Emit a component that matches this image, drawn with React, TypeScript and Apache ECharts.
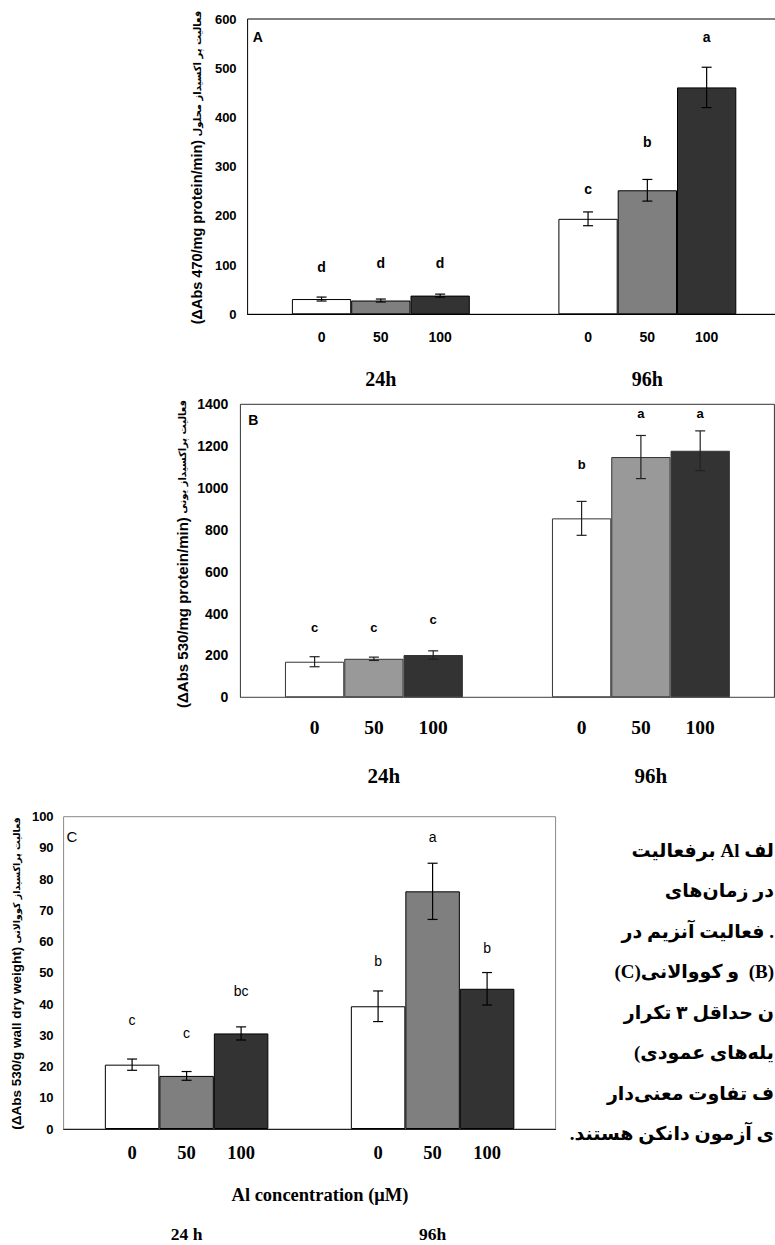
import React, { useEffect, useRef } from 'react';
import * as echarts from 'echarts';

// ---------- data ----------
const groups = ['24h', '96h'];
const groupsC = ['24 h', '96h'];
const concLabels = ['0', '50', '100'];

// Panel A (soluble peroxidase)
const aMean0 = [31, 194];
const aMean50 = [28, 252];
const aMean100 = [38, 461];
const aErr0 = [4, 14];
const aErr50 = [3, 22];
const aErr100 = [3, 41];
const aLetter0 = ['d', 'c'];
const aLetter50 = ['d', 'b'];
const aLetter100 = ['d', 'a'];
const aLetterAt0 = [96, 254];
const aLetterAt50 = [105, 350];
const aLetterAt100 = [105, 563];

// Panel B (ionic peroxidase)
const bMean0 = [170, 855];
const bMean50 = [184, 1148];
const bMean100 = [202, 1178];
const bErr0 = [24, 81];
const bErr50 = [8, 103];
const bErr100 = [20, 95];
const bLetter0 = ['c', 'b'];
const bLetter50 = ['c', 'a'];
const bLetter100 = ['c', 'a'];
const bLetterAt0 = [334, 1110];
const bLetterAt50 = [334, 1354];
const bLetterAt100 = [374, 1354];

// Panel C (covalent peroxidase)
const cMean0 = [20.6, 39.3];
const cMean50 = [17.0, 76.1];
const cMean100 = [30.6, 44.9];
const cErr0 = [1.8, 4.9];
const cErr50 = [1.4, 9.0];
const cErr100 = [2.1, 5.2];
const cLetter0 = ['c', 'b'];
const cLetter50 = ['c', 'a'];
const cLetter100 = ['bc', 'b'];
const cLetterAt0 = [34.9, 53.7];
const cLetterAt50 = [30.8, 93.4];
const cLetterAt100 = [44.2, 58.1];

const yMaxA = 600, yStepA = 100;
const yMaxB = 1400, yStepB = 200;
const yMaxC = 100, yStepC = 10;

const titleAen = '(ΔAbs 470/mg protein/min)';
const titleAfa = 'فعالیت پر اکسیداز محلول';
const titleBen = '(ΔAbs 530/mg protein/min)';
const titleBfa = 'فعالیت پراکسیداز یونی';
const titleCen = '(ΔAbs 530/g wall dry weight)';
const titleCfa = 'فعالیت پراکسیداز کووالانی';
const xNameC = 'Al concentration (μM)';

const captionLines = [
  'لف Al برفعالیت',
  'در زمان\u200cهای',
  '. فعالیت آنزیم در',
  '(B)  و کووالانی(C)',
  'ن حداقل ۳ تکرار',
  'یله\u200cهای عمودی)',
  'ف تفاوت معنی\u200cدار',
  'ی آزمون دانکن هستند.',
];

// ---------- styles ----------
const SANS = '"Liberation Sans", Arial, sans-serif';
const SERIF = '"Liberation Serif", "Times New Roman", serif';
const FA = '"DejaVu Sans", sans-serif';
const MIXED = '"Liberation Serif", "DejaVu Sans", serif';

const panels = [
  {
    means: [aMean0, aMean50, aMean100], errs: [aErr0, aErr50, aErr100],
    letters: [aLetter0, aLetter50, aLetter100], letterAt: [aLetterAt0, aLetterAt50, aLetterAt100],
    cats: groups, yMax: yMaxA, yStep: yStepA,
    grid: { left: 247.6, top: 19, width: 533, height: 295.3 }, barWidth: 59.3,
    colors: ['#ffffff', '#7f7f7f', '#333333'], barBorder: '#000', frame: '#000', axisColor: '#000', errColor: '#000',
    yFont: 13, yMargin: 11,
    subFamily: SANS, subSize: 14, subDistance: 16,
    groupSize: 20, groupMargin: 55, groupPadding: [0, 0, 0, 0],
    letterFont: { family: SANS, weight: 'bold', size: 14 },
  },
  {
    means: [bMean0, bMean50, bMean100], errs: [bErr0, bErr50, bErr100],
    letters: [bLetter0, bLetter50, bLetter100], letterAt: [bLetterAt0, bLetterAt50, bLetterAt100],
    cats: groups, yMax: yMaxB, yStep: yStepB,
    grid: { left: 240.4, top: 404.3, width: 534, height: 293 }, barWidth: 59.3,
    colors: ['#ffffff', '#999999', '#333333'], barBorder: '#333', frame: '#333', axisColor: '#666', errColor: '#222',
    yFont: 14, yMargin: 12,
    subFamily: SERIF, subSize: 19.5, subDistance: 20,
    groupSize: 21, groupMargin: 68, groupPadding: [0, 0, 0, 20],
    letterFont: { family: SANS, weight: 'bold', size: 13 },
  },
  {
    means: [cMean0, cMean50, cMean100], errs: [cErr0, cErr50, cErr100],
    letters: [cLetter0, cLetter50, cLetter100], letterAt: [cLetterAt0, cLetterAt50, cLetterAt100],
    cats: groupsC, yMax: yMaxC, yStep: yStepC,
    grid: { left: 63.6, top: 816.7, width: 492, height: 312.3 }, barWidth: 54.5,
    colors: ['#ffffff', '#7f7f7f', '#333333'], barBorder: '#000', frame: '#888', axisColor: '#222', errColor: '#000',
    yFont: 13, yMargin: 10,
    subFamily: SERIF, subSize: 18.5, subDistance: 14.5,
    groupSize: 17.5, groupMargin: 96, groupPadding: [0, 0, 0, 0],
    letterFont: { family: SANS, weight: 'normal', size: 14 },
  },
];

function yTitle(x: number, y: number, en: string, fa: string, enSize: number, faSize: number) {
  return {
    type: 'text', x, y, rotation: Math.PI / 2,
    style: {
      text: `{e|${en}}{f| ${fa}}`,
      align: 'center', verticalAlign: 'middle',
      rich: {
        e: { fontFamily: SANS, fontWeight: 'bold', fontSize: enSize, fill: '#000', color: '#000' },
        f: { fontFamily: FA, fontWeight: 'bold', fontSize: faSize, fill: '#000', color: '#000' },
      },
    },
  };
}

function buildOption() {
  const grid: any[] = [];
  const xAxis: any[] = [];
  const yAxis: any[] = [];
  const series: any[] = [];

  panels.forEach((p: any, pi) => {
    grid.push({
      ...p.grid, show: true, borderColor: p.frame, borderWidth: 1, backgroundColor: 'transparent',
      containLabel: false, outerBoundsMode: 'none',
    });
    xAxis.push({
      type: 'category', gridIndex: pi, data: p.cats,
      axisTick: { show: false },
      axisLine: { show: true, lineStyle: { color: p.axisColor, width: 1 } },
      axisLabel: { margin: p.groupMargin, fontFamily: SERIF, fontWeight: 'bold', fontSize: p.groupSize, color: '#000', padding: p.groupPadding },
      splitLine: { show: false },
    });
    yAxis.push({
      type: 'value', gridIndex: pi, min: 0, max: p.yMax, interval: p.yStep,
      axisLine: { show: false }, axisTick: { show: false }, splitLine: { show: false },
      axisLabel: {
        margin: p.yMargin, fontFamily: SANS, fontWeight: 'bold', fontSize: p.yFont, color: '#000',
        formatter: (v: number) => String(v),
      },
    });
    concLabels.forEach((c, k) => {
      series.push({
        type: 'bar', name: c, xAxisIndex: pi, yAxisIndex: pi, data: p.means[k],
        barWidth: p.barWidth, barGap: '0%', silent: true,
        itemStyle: { color: p.colors[k], borderColor: p.barBorder, borderWidth: 1 },
        label: {
          show: true, position: 'bottom', distance: p.subDistance, formatter: c,
          fontFamily: p.subFamily, fontWeight: 'bold', fontSize: p.subSize, color: '#000',
        },
      });
    });
    const errData: number[][] = [];
    const letters: string[] = [];
    p.cats.forEach((_: string, i: number) => {
      concLabels.forEach((_c, k) => {
        errData.push([i, p.means[k][i], p.errs[k][i], p.letterAt[k][i], k]);
        letters.push(p.letters[k][i]);
      });
    });
    const bw = p.barWidth;
    series.push({
      type: 'custom', xAxisIndex: pi, yAxisIndex: pi, data: errData, z: 5, clip: false, silent: true,
      renderItem: (params: any, api: any) => {
        const i = api.value(0), m = api.value(1), s = api.value(2), ly = api.value(3), k = api.value(4);
        const off = (k - 1) * bw;
        const top = api.coord([i, m + s]);
        const bot = api.coord([i, m - s]);
        const lp = api.coord([i, ly]);
        const x = top[0] + off;
        const st = { stroke: p.errColor, lineWidth: 1.2 };
        return {
          type: 'group',
          children: [
            { type: 'line', shape: { x1: x, y1: top[1], x2: x, y2: bot[1] }, style: st },
            { type: 'line', shape: { x1: x - 5, y1: top[1], x2: x + 5, y2: top[1] }, style: st },
            { type: 'line', shape: { x1: x - 5, y1: bot[1], x2: x + 5, y2: bot[1] }, style: st },
            {
              type: 'text', x: lp[0] + off, y: lp[1],
              style: {
                text: letters[params.dataIndex], fill: '#000',
                fontFamily: p.letterFont.family, fontWeight: p.letterFont.weight, fontSize: p.letterFont.size,
                align: 'center', verticalAlign: 'middle', textAlign: 'center', textVerticalAlign: 'middle',
              },
            },
          ],
        };
      },
    });
  });

  const graphic: any[] = [
    { type: 'text', x: 257.8, y: 36.7, style: { text: 'A', fontFamily: SANS, fontWeight: 'bold', fontSize: 14, fill: '#000', align: 'center', verticalAlign: 'middle' } },
    { type: 'text', x: 253.3, y: 420, style: { text: 'B', fontFamily: SANS, fontWeight: 'bold', fontSize: 14, fill: '#000', align: 'center', verticalAlign: 'middle' } },
    { type: 'text', x: 71.8, y: 836.7, style: { text: 'C', fontFamily: SANS, fontWeight: 'normal', fontSize: 15, fill: '#000', align: 'center', verticalAlign: 'middle' } },
    { type: 'text', x: 320, y: 1195, style: { text: xNameC, fontFamily: SERIF, fontWeight: 'bold', fontSize: 18.5, fill: '#000', align: 'center', verticalAlign: 'middle' } },
    yTitle(197, 167.5, titleAen, titleAfa, 14.5, 10),
    yTitle(182.7, 554, titleBen, titleBfa, 15, 10),
    yTitle(16, 973.5, titleCen, titleCfa, 13.5, 9.5),
  ];
  captionLines.forEach((line, i) => {
    graphic.push({
      type: 'text', x: 774, y: 850 + i * 40.5,
      style: {
        text: '\u202B' + line + '\u202C',
        fontFamily: MIXED, fontWeight: 'bold', fontSize: 19, fill: '#000',
        align: 'right', verticalAlign: 'middle',
      },
    });
  });

  return { animation: false, grid, xAxis, yAxis, series, graphic };
}

export default function App() {
  const ref = useRef<HTMLDivElement>(null);
  useEffect(() => {
    if (!ref.current) return;
    const chart = echarts.init(ref.current, null, { renderer: 'svg' });
    chart.setOption(buildOption() as any);
    return () => chart.dispose();
  }, []);
  return (
    <div
      ref={ref}
      style={{ position: 'absolute', left: 0, top: 0, width: 775, height: 1245, background: '#fff', overflow: 'hidden' }}
    />
  );
}
